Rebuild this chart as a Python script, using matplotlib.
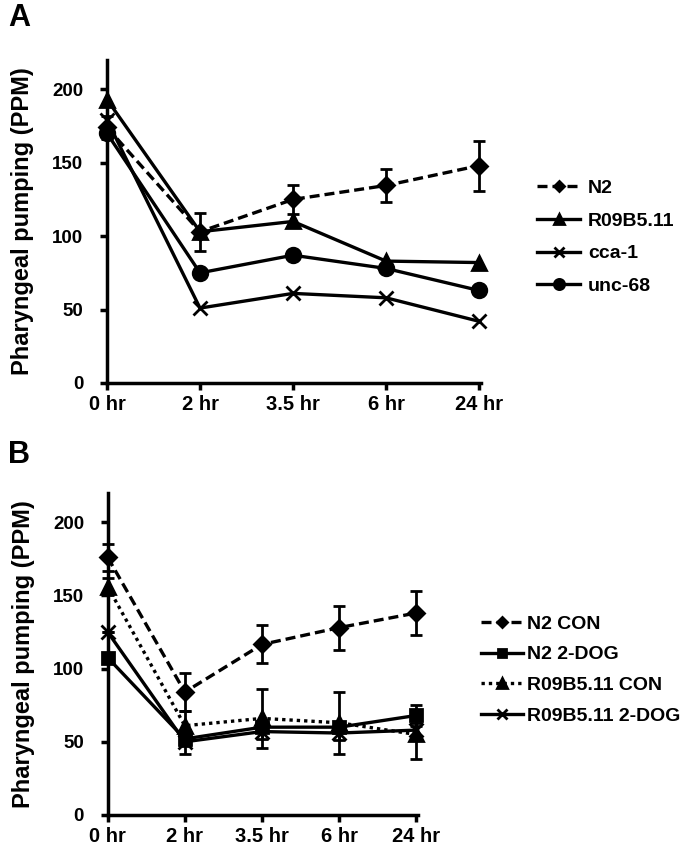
import numpy as np
import matplotlib
matplotlib.use('Agg')
import matplotlib.pyplot as plt

plt.rcParams['font.family'] = ['Liberation Sans', 'DejaVu Sans']
plt.rcParams['font.weight'] = 'bold'

timeLabels = ['0 hr', '2 hr', '3.5 hr', '6 hr', '24 hr']

# panel A
n2A = [174, 103, 125, 134.5, 148]
n2AErr = [8, 13, 10, 11.5, 17]
r09A = [193, 103, 110, 83, 82]
ccaA = [179, 51, 61, 58, 42]
uncA = [170, 75, 87, 78, 63]

# panel B
n2Con = [176, 84, 116.5, 128, 138]
n2ConErr = [9, 13, 13, 15, 15]
n2Dog = [107.5, 52, 60, 60, 68]
n2DogErr = [0, 5, 3, 3, 7]
r09Con = [156, 61, 66, 63, 55]
r09ConErr = [6, 10, 20, 21, 17]
r09Dog = [125, 50, 57, 56, 58]
r09DogErr = [0, 8, 5, 5, 5]

fig = plt.figure(figsize=(6.86, 8.56), dpi=100)

def styleAxis(ax):
	ax.set_ylim(0, 220)
	ax.set_xlim(0, 4.02)
	ax.set_yticks([0, 50, 100, 150, 200])
	ax.set_xticks(range(len(timeLabels)))
	ax.set_xticklabels(timeLabels)
	for s in ['top', 'right']:
		ax.spines[s].set_visible(False)
	for s in ['left', 'bottom']:
		ax.spines[s].set_linewidth(2.5)
	ax.tick_params(width=2.5, length=5)
	ax.tick_params(axis='x', labelsize=14.5, pad=3.5)
	ax.tick_params(axis='y', labelsize=13.5, pad=12)
	for lab in ax.get_xticklabels() + ax.get_yticklabels():
		lab.set_fontweight('bold')
	ax.set_ylabel('Pharyngeal pumping (PPM)', fontsize=17, fontweight='bold', labelpad=13)

def drawSeries(ax, ys, err, label, marker, ls, ms=10):
	xs = np.arange(len(ys))
	if err is not None:
		ax.errorbar(xs, ys, yerr=err, fmt='none', ecolor='black', elinewidth=2,
			capsize=4, capthick=2, clip_on=False)
	ax.plot(xs, ys, color='black', linestyle=ls, linewidth=2.4, marker=marker,
		markersize=ms, markeredgewidth=2, label=label, clip_on=False)

axA = fig.add_axes([0.156, 0.5526, 0.545, 0.3774])
drawSeries(axA, n2A, n2AErr, 'N2', 'D', (0, (3, 1.5)), 8)
drawSeries(axA, r09A, None, 'R09B5.11', '^', '-')
drawSeries(axA, ccaA, None, 'cca-1', 'x', '-', 10)
drawSeries(axA, uncA, None, 'unc-68', 'o', '-', 10.5)
styleAxis(axA)
axA.legend(loc='upper left', bbox_to_anchor=(0.758, 0.811), bbox_transform=fig.transFigure,
	frameon=False, handlelength=2.2, handletextpad=0.4, labelspacing=0.78,
	prop={'weight': 'bold', 'size': 14}, markerscale=0.7)

axB = fig.add_axes([0.157, 0.0479, 0.452, 0.3762])
drawSeries(axB, n2Con, n2ConErr, 'N2 CON', 'D', (0, (3, 1.5)), 8)
drawSeries(axB, n2Dog, n2DogErr, 'N2 2-DOG', 's', '-', 9)
drawSeries(axB, r09Con, r09ConErr, 'R09B5.11 CON', '^', (0, (1, 1.2)))
drawSeries(axB, r09Dog, r09DogErr, 'R09B5.11 2-DOG', 'x', '-', 10)
styleAxis(axB)
axB.legend(loc='upper left', bbox_to_anchor=(0.675, 0.302), bbox_transform=fig.transFigure,
	frameon=False, handlelength=2.2, handletextpad=0.2, labelspacing=0.68,
	prop={'weight': 'bold', 'size': 14}, markerscale=0.7)

fig.text(0.012, 0.979, 'A', fontsize=22, fontweight='bold', va='center')
fig.text(0.012, 0.468, 'B', fontsize=22, fontweight='bold', va='center')

fig.savefig('out.png', dpi=100)
